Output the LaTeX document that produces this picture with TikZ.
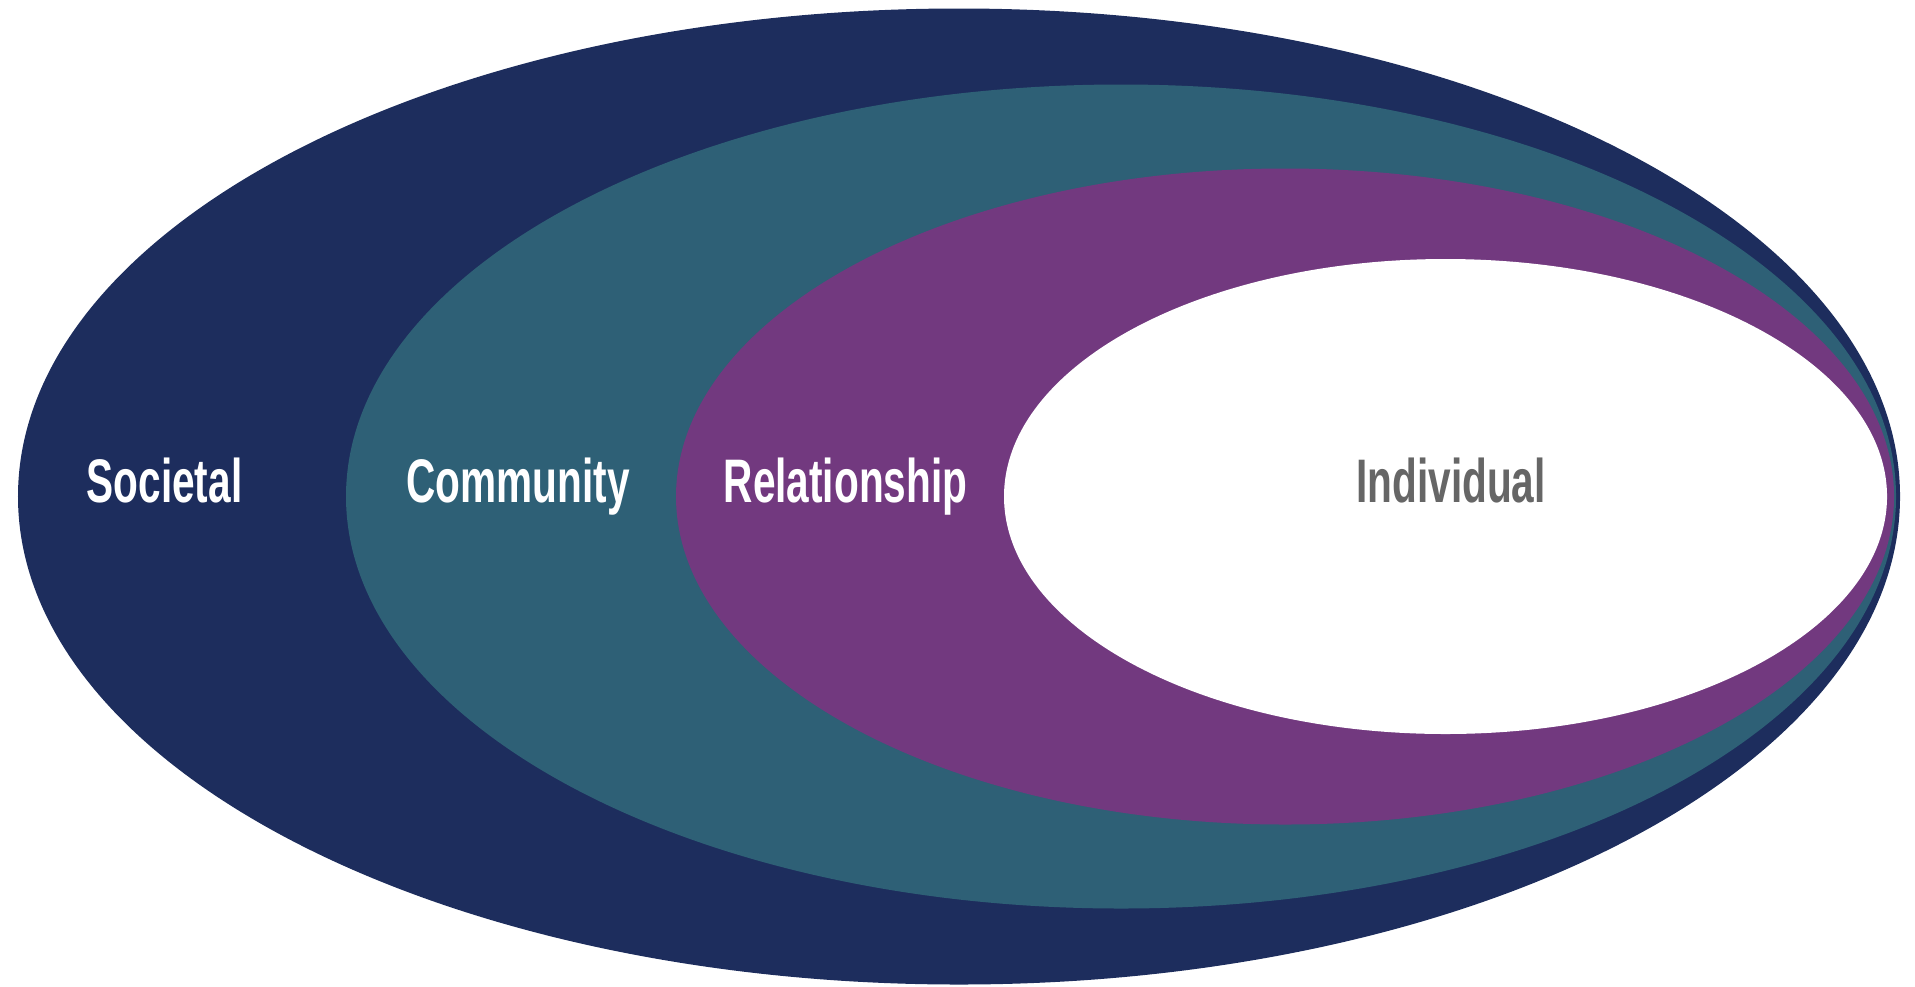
\documentclass[tikz,border=0pt]{standalone}
\usepackage{fontspec}
\setmainfont{Liberation Sans}
\usepackage{graphicx}
\usepackage{tikz}
\usetikzlibrary{positioning}

\definecolor{navy}{HTML}{1D2D5D}
\definecolor{teal}{HTML}{2E6076}
\definecolor{plum}{HTML}{72397F}
\definecolor{greytext}{HTML}{666666}

\newcommand{\narrow}[1]{\scalebox{0.66}[1]{#1}}   %condensed label text

\tikzset{
    level/.style={font=\bfseries\fontsize{17.5}{20}\selectfont, text=white, anchor=base},
}

\begin{document}
\begin{tikzpicture}
    \useasboundingbox (0,0) rectangle (19.15,9.86);   % Picture size
    \pgfmathsetmacro {\cy}{4.895}   %Common centre height

    % Draw the four levels, outermost first
    \fill[navy]  (9.59,\cy)   ellipse [x radius=9.41,  y radius=4.88];   %Societal
    \fill[teal]  (11.21,\cy)  ellipse [x radius=7.75,  y radius=4.12];   %Community
    \fill[plum]  (12.85,\cy)  ellipse [x radius=6.09,  y radius=3.28];   %Relationship
    \fill[white] (14.455,\cy) ellipse [x radius=4.415, y radius=2.375];  %Individual

    % Level labels
    \node[level] (societal)     at (1.645,4.84) {\narrow{Societal}};
    \node[level] (community)    at (5.18,4.84)  {\narrow{Community}};
    \node[level] (relationship) at (8.455,4.84) {\narrow{Relationship}};
    \node[level, text=greytext] (individual) at (14.51,4.84) {\narrow{Individual}};
\end{tikzpicture}
\end{document}
